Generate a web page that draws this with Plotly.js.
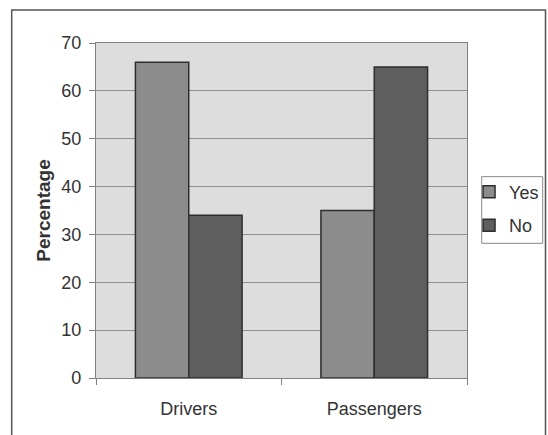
<!DOCTYPE html>
<html>
<head>
<meta charset="utf-8">
<script src="https://cdn.plot.ly/plotly-3.0.1.min.js"></script>
<style>
  html, body { margin: 0; padding: 0; background: #ffffff; }
  #chart { width: 548px; height: 435px; }
</style>
</head>
<body>
<div id="chart"></div>
<script>
const categories = ["Drivers", "Passengers"];
const seriesNames = ["Yes", "No"];
const yesValues = [66, 35];
const noValues = [34, 65];
const yTickValues = [0, 10, 20, 30, 40, 50, 60, 70];
const yAxisTitle = "Percentage";

const textColor = "#333333";
const fontFamily = "Liberation Sans, Arial, sans-serif";

const traces = [
  {
    type: "bar",
    name: seriesNames[0],
    legendgroup: "g1",
    x: categories,
    y: yesValues,
    marker: { color: "#8c8c8c", line: { color: "#2e2e2e", width: 1.5 } },
    hoverinfo: "none"
  },
  {
    type: "bar",
    name: seriesNames[1],
    legendgroup: "g2",
    x: categories,
    y: noValues,
    marker: { color: "#5e5e5e", line: { color: "#2e2e2e", width: 1.5 } },
    hoverinfo: "none"
  }
];

const layout = {
  width: 548,
  height: 435,
  margin: { l: 96, r: 81, t: 43, b: 57, pad: 0 },
  paper_bgcolor: "#ffffff",
  plot_bgcolor: "#dddddd",
  font: { family: fontFamily, size: 18, color: textColor },
  barmode: "group",
  bargap: 0.425,
  bargroupgap: 0,
  showlegend: true,
  legend: {
    xref: "container",
    yref: "container",
    x: 0.8559,
    xanchor: "left",
    y: 0.601,
    yanchor: "top",
    bgcolor: "rgba(0,0,0,0)",
    borderwidth: 0,
    traceorder: "grouped",
    tracegroupgap: 7,
    font: { family: fontFamily, size: 18, color: textColor },
    itemwidth: 30
  },
  xaxis: {
    type: "category",
    tickson: "boundaries",
    ticks: "outside",
    ticklen: 6,
    tickcolor: "#808080",
    tickwidth: 1,
    showline: true,
    linecolor: "#808080",
    linewidth: 1.2,
    mirror: true,
    showgrid: false,
    zeroline: false,
    ticklabelstandoff: 14,
    tickfont: { family: fontFamily, size: 18, color: textColor },
    automargin: false
  },
  yaxis: {
    range: [0, 70],
    tickvals: yTickValues,
    ticks: "outside",
    ticklen: 6,
    tickcolor: "#808080",
    tickwidth: 1,
    showline: true,
    linecolor: "#808080",
    linewidth: 1.2,
    mirror: true,
    showgrid: true,
    gridcolor: "#8e8e8e",
    gridwidth: 1,
    zeroline: false,
    ticklabelstandoff: 4,
    tickfont: { family: fontFamily, size: 18, color: textColor },
    title: {
      text: yAxisTitle,
      font: { family: fontFamily, size: 19, color: textColor, weight: "bold" },
      standoff: 5
    },
    automargin: false
  },
  shapes: [
    {
      type: "rect",
      xref: "paper",
      yref: "paper",
      x0: -0.2272,
      x1: 1.2116,
      y0: -0.25,
      y1: 1.0985,
      line: { color: "#555555", width: 1.5 },
      fillcolor: "rgba(0,0,0,0)",
      layer: "below"
    },
    {
      type: "rect",
      xref: "paper",
      yref: "paper",
      x0: 1.0396,
      x1: 1.204,
      y0: 0.402,
      y1: 0.601,
      line: { color: "#8a8a8a", width: 1 },
      fillcolor: "#ffffff",
      layer: "below"
    }
  ]
};

Plotly.newPlot("chart", traces, layout, { staticPlot: true, displayModeBar: false });
</script>
</body>
</html>
